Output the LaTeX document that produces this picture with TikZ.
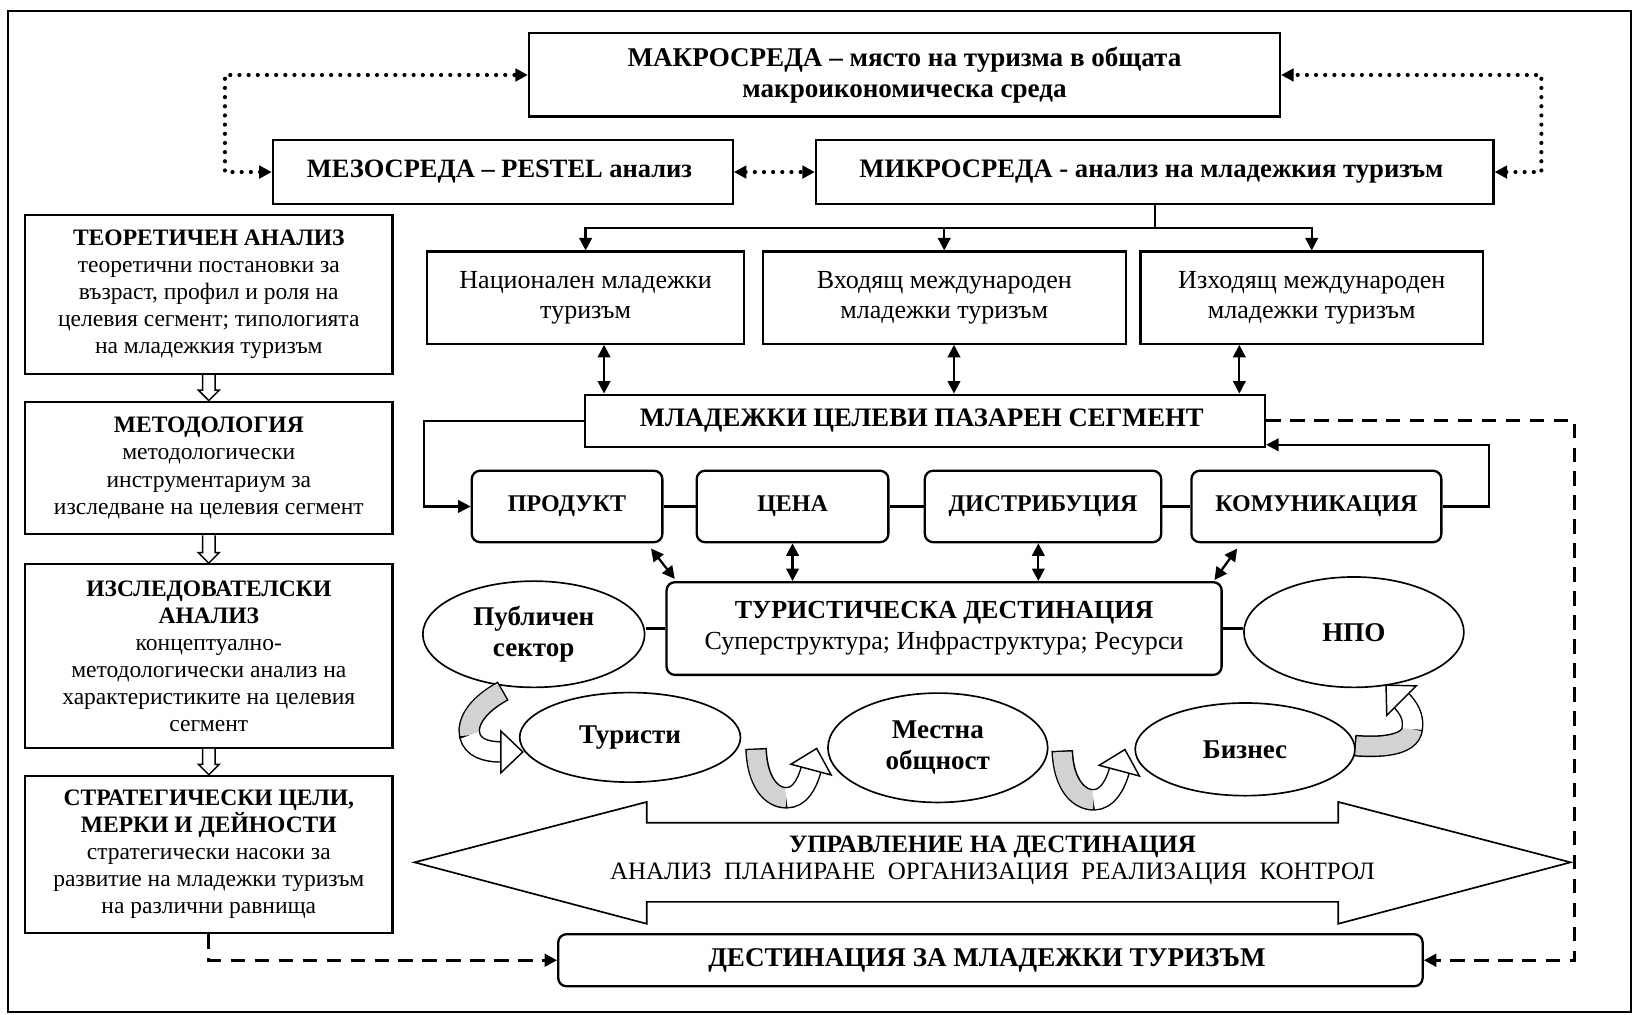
\documentclass[tikz,border=0pt]{standalone}
\usepackage{fontspec}
\setmainfont{Liberation Serif}
\usepackage{tikz}
\usetikzlibrary{calc,shapes,arrows.meta,decorations.markings}

\tikzset{
  box/.style={draw,line width=1.1pt,align=center,inner sep=2pt},
  rbox/.style={box,rounded corners=4pt},
  lbox/.style={box,minimum width=176.5pt,font=\fontsize{11.3}{13}\selectfont},
  mbox/.style={box,minimum height=44.2pt,font=\fontsize{12.5}{14.5}\selectfont},
  pbox/.style={rbox,minimum height=34.3pt,font=\fontsize{11.5}{14}\selectfont\bfseries},
  oval/.style={draw,ellipse,line width=0.8pt,align=center,inner sep=0pt,font=\fontsize{13}{15}\selectfont\bfseries},
  conn/.style={line width=1.1pt},
  arr/.style={conn,->},
  dots/.style={line width=2pt,line cap=round,dash pattern=on 0pt off 4.4pt,<->},
  dashes/.style={line width=1.5pt,dash pattern=on 7pt off 4.5pt,->}
}
% hollow arrow between the boxes of the left column
\newcommand{\hollowdown}[2]{%
  \draw[fill=white,line width=0.7pt] ($(#1.south)+(-6,0)$) -- ($(#2.north)+(-6,-10)$)
    -- ($(#2.north)+(-10,-10)$) -- (#2.north) -- ($(#2.north)+(10,-10)$)
    -- ($(#2.north)+(6,-10)$) -- ($(#1.south)+(6,0)$);}
% curved block arrow: start, first (grey) part, middle, second (white) part
\newcommand{\bentarrow}[4]{%
  \draw[line width=10.4pt,shorten <=-0.7pt] #1 #2 #3 #4;
  \draw[line width=9pt,gray!35] #1 #2 #3;
  \draw[line width=9pt,white] #3 #4;
  \path[decoration={markings,mark=at position 1 with {\draw[fill=white,line width=0.7pt]
    (-0.5pt,-10pt) -- (10pt,0pt) -- (-0.5pt,10pt) -- cycle;}},decorate] #3 #4;}

\begin{document}
\begin{tikzpicture}[x=0.5pt,y=-0.5pt,>={Triangle[length=6pt,width=6pt]}]
  \useasboundingbox (0,0) rectangle (1568,974);
  \draw[line width=0.8pt] (8,10.5) rectangle (1566,972);

  %% environments
  \node (makro) at (868.5,72) [box,minimum width=360.5pt,minimum height=40pt,font=\fontsize{13}{15}\selectfont\bfseries]{
    МАКРОСРЕДА – място на туризма в общата\\макроикономическа среда
  };
  \node (mezo) at (482.8,165.2) [box,minimum width=220.8pt,minimum height=30.8pt,font=\fontsize{12.7}{15}\selectfont\bfseries]{
    МЕЗОСРЕДА – PESTEL анализ
  };
  \node (mikro) at (1108.75,165.2) [box,minimum width=325.25pt,minimum height=30.8pt,font=\fontsize{12.8}{15}\selectfont\bfseries]{
    МИКРОСРЕДА - анализ на младежкия туризъм
  };
  \coordinate (dl) at (216,72);
  \coordinate (dr) at (1480,72);
  \draw[dots] (mezo.west) -| (dl) -- (makro.west);
  \draw[dots] (mikro.east) -| (dr) -- (makro.east);
  \draw[dots] (mezo.east) -- (mikro.west);

  %% left column
  \node (teo) at (200.5,282.7) [lbox,minimum height=76.3pt]{
    \textbf{ТЕОРЕТИЧЕН АНАЛИЗ}\\теоретични постановки за\\възраст, профил и роля на\\целевия сегмент; типологията\\на младежкия туризъм
  };
  \node (met) at (200.5,449.35) [lbox,minimum height=63.65pt]{
    \textbf{МЕТОДОЛОГИЯ}\\методологически\\инструментариум за\\изследване на целевия сегмент
  };
  \node (izs) at (200.5,629.9) [lbox,minimum height=88.1pt]{
    \textbf{ИЗСЛЕДОВАТЕЛСКИ}\\\textbf{АНАЛИЗ}\\концептуално-\\методологически анализ на\\характеристиките на целевия\\сегмент
  };
  \node (strat) at (200.5,820.5) [lbox,minimum height=75.5pt]{
    \textbf{СТРАТЕГИЧЕСКИ ЦЕЛИ,}\\\textbf{МЕРКИ И ДЕЙНОСТИ}\\стратегически насоки за\\развитие на младежки туризъм\\на различни равнища
  };
  \hollowdown{teo}{met}
  \hollowdown{met}{izs}
  \hollowdown{izs}{strat}

  %% kinds of youth tourism
  \node (nat) at (562.3,285.8) [mbox,minimum width=152.3pt]{Национален младежки\\туризъм};
  \node (vhod) at (906.65,285.8) [mbox,minimum width=174.35pt]{Входящ международен\\младежки туризъм};
  \node (izh) at (1259.5,285.8) [mbox,minimum width=164.5pt]{Изходящ международен\\младежки туризъм};
  \coordinate (split) at (1108.75,219);
  \draw[conn] (mikro.south) -- (split);
  \draw[arr] (split) -| (nat.north);
  \draw[arr] (split) -| (vhod.north);
  \draw[arr] (split) -| (izh.north);

  \node (mlad) at (888.3,404) [box,minimum width=326.3pt,minimum height=25pt,font=\fontsize{12.8}{15}\selectfont\bfseries]{
    МЛАДЕЖКИ ЦЕЛЕВИ ПАЗАРЕН СЕГМЕНТ
  };
  \draw[conn,<->] (nat.south -| 580,0) -- (mlad.north -| 580,0);
  \draw[conn,<->] (vhod.south -| 916,0) -- (mlad.north -| 916,0);
  \draw[conn,<->] (izh.south -| 1190,0) -- (mlad.north -| 1190,0);

  %% marketing mix
  \node (prod) at (544.5,486.3) [pbox,minimum width=91.5pt]{ПРОДУКТ};
  \node (cena) at (761,486.3) [pbox,minimum width=92pt]{ЦЕНА};
  \node (dist) at (1001.5,486.3) [pbox,minimum width=113.5pt]{ДИСТРИБУЦИЯ};
  \node (kom) at (1264,486.3) [pbox,minimum width=120pt]{КОМУНИКАЦИЯ};
  \draw[conn] (prod) -- (cena) -- (dist) -- (kom);
  \coordinate (fbl) at (407,404);
  \coordinate (fbr) at (1430,486.3);
  \draw[arr] (mlad.west) -- (fbl) |- (prod.west);
  \draw[arr] (kom.east) -- (fbr) |- ($(mlad.south east)+(0,-3)$);

  %% destination
  \node (tur) at (906.5,603.5) [rbox,minimum width=266.5pt,minimum height=44.5pt,font=\fontsize{12.5}{15}\selectfont]{
    \textbf{ТУРИСТИЧЕСКА ДЕСТИНАЦИЯ}\\Суперструктура; Инфраструктура; Ресурси
  };
  \draw[conn,<->] ($(prod.south east)+(-12,5)$) -- ($(tur.north west)+(9,-2)$);
  \draw[conn,<->] (cena.south) -- (cena.south |- tur.north);
  \draw[conn,<->] (997,0 |- dist.south) -- (997,0 |- tur.north);
  \draw[conn,<->] ($(kom.south west)+(45,5)$) -- ($(tur.north east)+(-8,-1)$);

  \node (pub) at (512.5,609) [oval,minimum width=106.5pt,minimum height=51pt]{Публичен\\сектор};
  \node (npo) at (1300,607) [oval,minimum width=105.6pt,minimum height=53pt]{НПО};
  \node (tour) at (605,708) [oval,minimum width=106pt,minimum height=43pt]{Туристи};
  \node (mest) at (900.5,718) [oval,minimum width=105.5pt,minimum height=52.5pt]{Местна\\общност};
  \node (biz) at (1195.5,719.5) [oval,minimum width=105.5pt,minimum height=44.5pt]{Бизнес};
  \draw[conn] (tur.west) -- (pub.east |- tur.west);
  \draw[conn] (tur.east) -- (npo.west |- tur.east);

  \bentarrow{(482,664)}{.. controls (460,676) and (448,692) ..}{(451,706)}{.. controls (454,718) and (466,722) .. (482,722)}
  \bentarrow{(726,720)}{.. controls (727,750) and (740,766) ..}{(755,766)}{.. controls (768,766) and (775,753) .. (779,738)}
  \bentarrow{(1020,722)}{.. controls (1021,752) and (1035,768) ..}{(1050,768)}{.. controls (1063,768) and (1071,754) .. (1075,739)}
  \bentarrow{(1302,716)}{.. controls (1325,718) and (1354,716) ..}{(1356,700)}{.. controls (1358,688) and (1352,679) .. (1345,672)}

  %% management
  \draw[line width=0.8pt,fill=white] (398,828) -- (621,770) -- (621,790) -- (1285,790) -- (1285,770) -- (1508,828)
    -- (1285,887) -- (1285,866) -- (621,866) -- (621,887) -- cycle;
  \node (upr) at (953,826) [align=center,font=\fontsize{12}{13}\selectfont]{
    \textbf{УПРАВЛЕНИЕ НА ДЕСТИНАЦИЯ}\\АНАЛИЗ~~ПЛАНИРАНЕ~~ОРГАНИЗАЦИЯ~~РЕАЛИЗАЦИЯ~~КОНТРОЛ
  };

  \node (dest) at (951,922) [rbox,minimum width=415pt,minimum height=25pt,font=\fontsize{13}{15}\selectfont\bfseries]{
    ДЕСТИНАЦИЯ ЗА МЛАДЕЖКИ ТУРИЗЪМ
  };
  \coordinate (dsh) at (1512,404);
  \draw[dashes] (strat.south) |- (dest.west);
  \draw[dashes] (mlad.east) -- (dsh) |- (dest.east);
\end{tikzpicture}
\end{document}
